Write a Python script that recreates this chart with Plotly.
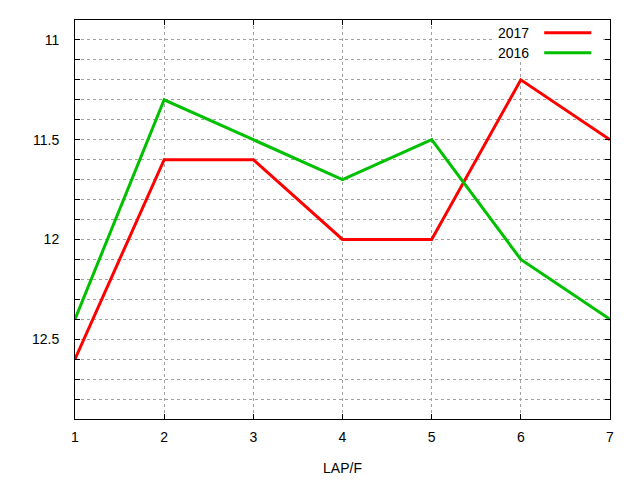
import plotly.graph_objects as go

laps = [1, 2, 3, 4, 5, 6, 7]
y2017 = [12.6, 11.6, 11.6, 12.0, 12.0, 11.2, 11.5]
y2016 = [12.4, 11.3, 11.5, 11.7, 11.5, 12.1, 12.4]

ytick_vals = [round(11.0 + 0.1 * i, 1) for i in range(19)]
ytick_text = [("%g" % v) if abs(v * 2 - round(v * 2)) < 1e-9 else "" for v in ytick_vals]

font = dict(family="Liberation Sans, Arial, sans-serif", size=14, color="black")

fig = go.Figure()
fig.add_trace(go.Scatter(x=laps, y=y2017, mode="lines", name="2017",
                         line=dict(color="#ff0000", width=3)))
fig.add_trace(go.Scatter(x=laps, y=y2016, mode="lines", name="2016",
                         line=dict(color="#00c000", width=3)))

axis_common = dict(showline=True, linecolor="black", linewidth=1, mirror="ticks",
                   ticks="inside", ticklen=5, tickcolor="black",
                   showgrid=True, gridcolor="#a0a0a0", gridwidth=1, griddash="3px,3px",
                   zeroline=False, tickfont=font)

fig.update_xaxes(range=[1, 7], tickvals=laps, ticklabelstandoff=5,
                 title=dict(text="LAP/F", font=font, standoff=19), **axis_common)
fig.update_yaxes(range=[12.9, 10.9], tickvals=ytick_vals, ticktext=ytick_text,
                 ticklabelstandoff=12, **axis_common)

# legend box in gnuplot style: text on the left, line sample on the right
fig.add_shape(type="rect", xref="paper", yref="paper", x0=0.785, x1=0.985, y0=0.9, y1=1,
              fillcolor="white", line=dict(width=0), layer="above")
for i, (name, color) in enumerate([("2017", "#ff0000"), ("2016", "#00c000")]):
    ypos = 0.968 - i * 0.05
    fig.add_annotation(xref="paper", yref="paper", x=0.853, y=ypos, text=name,
                       showarrow=False, xanchor="right", yanchor="middle", font=font)
    fig.add_shape(type="line", xref="paper", yref="paper", x0=0.877, x1=0.965,
                  y0=ypos, y1=ypos, line=dict(color=color, width=3), layer="above")

# page body has an 8px offset, margins compensate for it
fig.update_layout(width=640, height=480, showlegend=False,
                  margin=dict(l=67, r=38, t=12, b=69),
                  plot_bgcolor="white", paper_bgcolor="white", font=font)

fig.write_html("out.html")
